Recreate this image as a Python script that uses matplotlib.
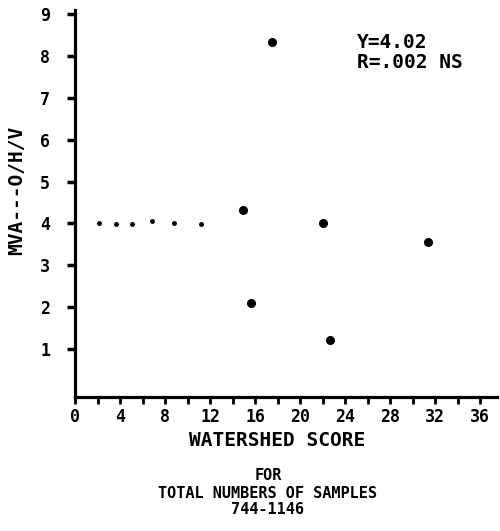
import matplotlib
matplotlib.use("Agg")
import matplotlib.pyplot as plt
from matplotlib.ticker import MultipleLocator

# watershed score vs value
score = [17.5, 14.9, 15.6, 22.0, 22.7, 31.4]
value = [8.33, 4.31, 2.09, 4.00, 1.22, 3.55]

# dotted mean line points at the left
mean_x = [2.1, 3.6, 5.1, 6.8, 8.8, 11.2]
mean_y = [4.00, 3.98, 3.98, 4.05, 4.02, 3.98]

x_ticks = [0, 4, 8, 12, 16, 20, 24, 28, 32, 36]
y_ticks = [1, 2, 3, 4, 5, 6, 7, 8, 9]

W, H = 500, 531
FONT = "DejaVu Sans Mono"

def fx(px):
    return px / W

def fy(py):
    return 1 - py / H

fig = plt.figure(figsize=(5, 5.31), dpi=100)
ax = fig.add_axes([fx(75), fy(397), fx(497) - fx(75), fy(10) - fy(397)])

ax.plot(score, value, "o", color="black", markersize=5.5)
ax.plot(mean_x, mean_y, "o", color="black", markersize=2.5)

ax.set_xlim(0, 37.5)
ax.set_ylim(-0.15, 9.1)

ax.spines["top"].set_visible(False)
ax.spines["right"].set_visible(False)
ax.spines["left"].set_linewidth(2.3)
ax.spines["bottom"].set_linewidth(2.3)

ax.set_xticks(x_ticks)
ax.set_xticklabels([str(v) for v in x_ticks])
ax.xaxis.set_minor_locator(MultipleLocator(2))
ax.set_yticks(y_ticks)
ax.set_yticklabels([str(v) for v in y_ticks])

ax.tick_params(axis="x", which="both", direction="out", length=5, width=2, pad=3)
ax.tick_params(axis="y", direction="out", length=6, width=2.5, pad=12)
for lab in ax.get_xticklabels() + ax.get_yticklabels():
    lab.set_fontfamily(FONT)
    lab.set_fontweight("bold")
    lab.set_fontsize(12)

txt = dict(family=FONT, weight="bold", fontsize=14, color="black")
small = dict(family=FONT, weight="bold", fontsize=11, color="black")

fig.text(fx(17), fy(190), "MVA---O/H/V", rotation=90, ha="center", va="center", **txt)
fig.text(fx(277), fy(441), "WATERSHED SCORE", ha="center", va="center", **txt)
fig.text(fx(268), fy(476), "FOR", ha="center", va="center", **small)
fig.text(fx(268), fy(493), "TOTAL NUMBERS OF SAMPLES", ha="center", va="center", **small)
fig.text(fx(268), fy(510), "744-1146", ha="center", va="center", **small)

fig.text(fx(357), fy(43), "Y=4.02", ha="left", va="center", **txt)
fig.text(fx(357), fy(62), "R=.002 NS", ha="left", va="center", **txt)

fig.savefig("out.png", dpi=100, facecolor="white")
